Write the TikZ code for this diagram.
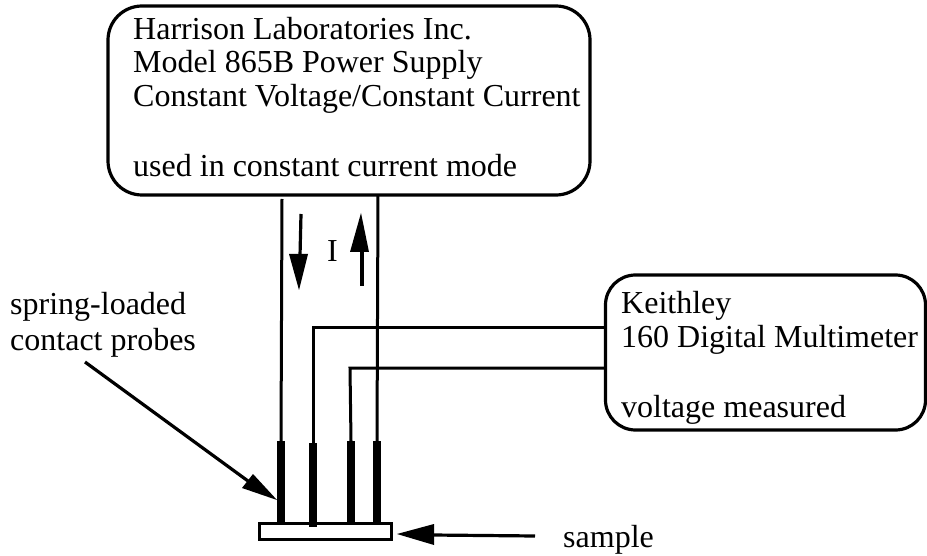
\documentclass[tikz,border=0pt]{standalone}
\usepackage{fontspec}
\setmainfont{Liberation Serif}
\begin{document}
\begin{tikzpicture}[x=1pt,y=-1pt,
  instrument/.style={draw,line width=3.2pt,rounded corners=34pt,inner sep=0pt},
  lab/.style={inner sep=0pt,anchor=base west,align=left,font=\fontsize{32}{38}\selectfont},
  wire/.style={line width=3pt},
  probe/.style={line width=8.5pt},
  pointer/.style={line width=3.2pt},
  headfill/.style={fill=black,draw=none}]
\useasboundingbox (0,0) rectangle (927,556);
% boxes
\node[instrument,minimum width=482pt,minimum height=189pt] (psu) at (349,100.5) {};
\node[instrument,minimum width=320pt,minimum height=155pt,rounded corners=30pt] (dmm) at (765.5,352.5) {};
\node[draw,line width=3pt,minimum width=132pt,minimum height=16pt,inner sep=0pt] (samp) at (325,531) {};
% texts
\node[lab] (t1) at (133,40) {Harrison Laboratories Inc.};
\node[lab] (t2) at (133,73) {Model 865B Power Supply};
\node[lab] (t3) at (133,107) {Constant Voltage/Constant Current};
\node[lab] (t4) at (133,177) {used in constant current mode};
\node[lab] (k1) at (621,313) {Keithley};
\node[lab] (k2) at (621,348) {160 Digital Multimeter};
\node[lab] (k3) at (621,417) {voltage measured};
\node[lab] (s1) at (10,315) {spring-loaded};
\node[lab] (s2) at (10,350) {contact probes};
\node[lab] (sa) at (563,547) {sample};
\node[lab] (cur) at (327,262) {I};
% probe tops and bottoms
\coordinate (p1t) at (281,441); \coordinate (p1b) at (281,522);
\coordinate (p2t) at (313,443); \coordinate (p2b) at (313,527);
\coordinate (p3t) at (351,441); \coordinate (p3b) at (351,522);
\coordinate (p4t) at (377,441); \coordinate (p4b) at (377,522);
\draw[probe] (p1t) -- (p1b);
\draw[probe] (p2t) -- (p2b);
\draw[probe] (p3t) -- (p3b);
\draw[probe] (p4t) -- (p4b);
% wires
\coordinate (w1) at (282,199);
\coordinate (w4) at (378,195);
\coordinate (w2) at (605,327);
\coordinate (w3) at (605,368);
\draw[wire] (w1) -- (p1t);
\draw[wire] (w4) -- (p4t);
\draw[wire] (w2) -- (313,327) -- (p2t);
\draw[wire] (w3) -- (350,368) -- (p3t);
% current arrows
\coordinate (da) at (301,214); \coordinate (db) at (300,256); \coordinate (dt) at (299,290);
\draw[pointer] (da) -- (db);
\fill[headfill] (dt) -- (289,254) -- (308,254) -- cycle;
\coordinate (ua) at (362,286); \coordinate (ub) at (362,250); \coordinate (ut) at (361,213);
\draw[pointer] (ua) -- (ub);
\fill[headfill] (ut) -- (350,252) -- (369,252) -- cycle;
% pointer arrows
\coordinate (pa) at (85,362); \coordinate (pb) at (248,481); \coordinate (pt) at (277,500);
\draw[pointer] (pa) -- (pb);
\fill[headfill] (pt) -- (242,488) -- (253,474) -- cycle;
\coordinate (sb) at (535,536); \coordinate (sc) at (432,535); \coordinate (st) at (397,534);
\draw[pointer] (sb) -- (sc);
\fill[headfill] (st) -- (434,524) -- (434,545) -- cycle;
\end{tikzpicture}
\end{document}
